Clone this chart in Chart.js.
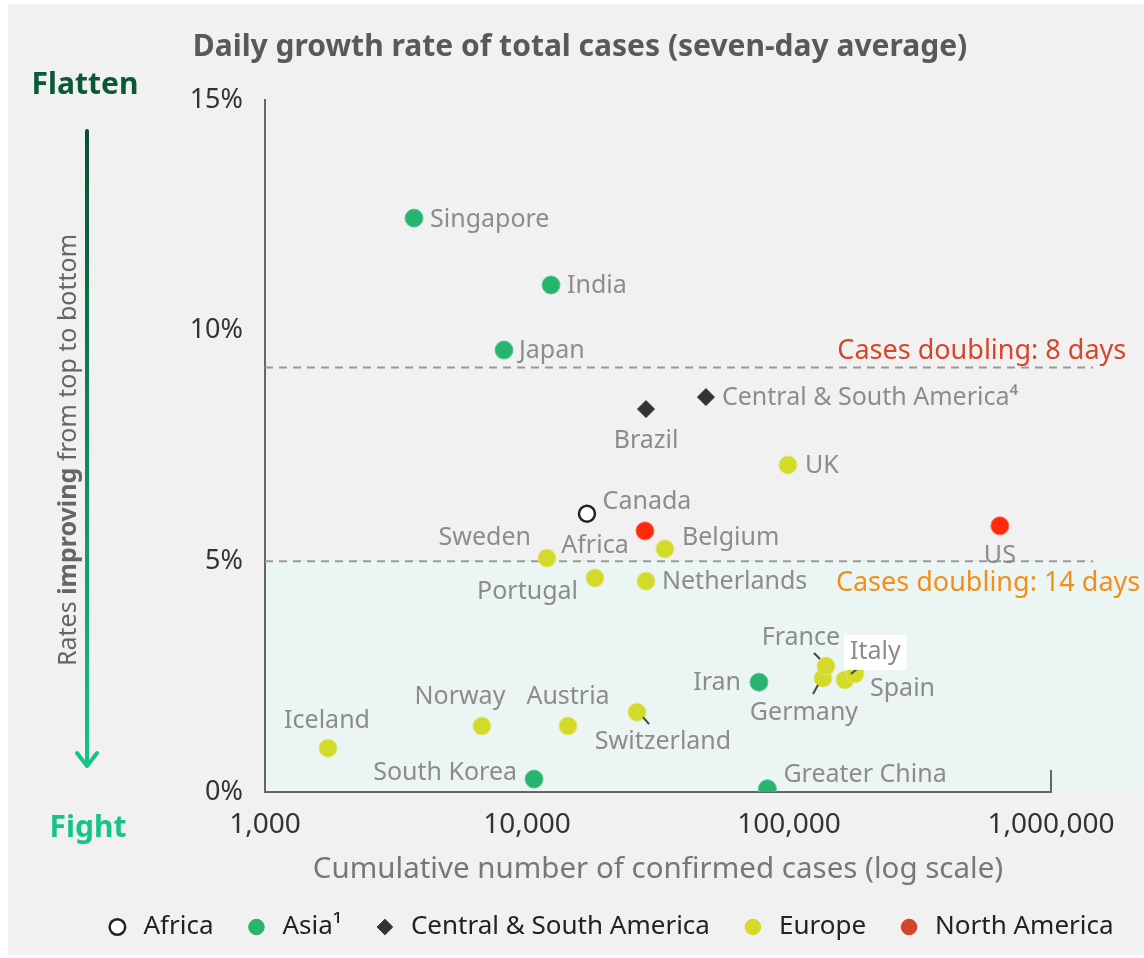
<!DOCTYPE html>
<html>
<head>
<meta charset="utf-8">
<script src="https://cdn.jsdelivr.net/npm/chart.js@4/dist/chart.umd.min.js"></script>
<style>
  html, body { margin: 0; padding: 0; background: #fff; }
  #chart { display: block; }
</style>
</head>
<body>
<canvas id="chart" width="1144" height="958"></canvas>
<script>
// Chart values
const countries = ["Iceland", "Norway", "Austria", "Sweden", "Portugal", "Switzerland", "Netherlands",
  "Belgium", "UK", "Germany", "France", "Spain", "Italy",
  "Singapore", "Japan", "South Korea", "India", "Iran", "Greater China",
  "Brazil", "Central & South America⁴", "Africa", "Canada", "US"];
const regions = ["Europe", "Europe", "Europe", "Europe", "Europe", "Europe", "Europe",
  "Europe", "Europe", "Europe", "Europe", "Europe", "Europe",
  "Asia¹", "Asia¹", "Asia¹", "Asia¹", "Asia¹", "Asia¹",
  "Central & South America", "Central & South America", "Africa", "North America", "North America"];
const cases = [1740, 6730, 14340, 11920, 18180, 26300, 28460,
  33600, 99100, 134800, 138400, 163600, 178600,
  3705, 8170, 10640, 12350, 76800, 82700,
  28460, 48200, 16940, 28200, 638000];
const growth = [0.95, 1.43, 1.43, 5.07, 4.64, 1.73, 4.57,
  5.27, 7.09, 2.47, 2.73, 2.43, 2.56,
  12.44, 9.58, 0.28, 10.99, 2.38, 0.07,
  8.30, 8.56, 6.03, 5.66, 5.77];

const legendOrder = ["Africa", "Asia¹", "Central & South America", "Europe", "North America"];
const doublingLabels = ["Cases doubling: 8 days", "Cases doubling: 14 days"];
const doublingRates = [9.2, 5.0];
const doublingEnd = 1450000;
const xTicks = [1000, 10000, 100000, 1000000];
const yTicks = [0, 5, 10, 15];

// Styles
const regionStyle = {
  "Africa": { fill: "#ffffff", border: "#222222", legend: "#ffffff", style: "circle", radius: 8, width: 2.5 },
  "Asia¹": { fill: "#26b46e", border: "#5dc795", legend: "#26b46e", style: "circle", radius: 9, width: 1 },
  "Central & South America": { fill: "#333333", border: "#333333", legend: "#333333", style: "rectRot", radius: 8.5, width: 1 },
  "Europe": { fill: "#d4da2a", border: "#e3e67a", legend: "#d4da2a", style: "circle", radius: 9, width: 1 },
  "North America": { fill: "#ff2a0a", border: "#ff6a50", legend: "#d3462b", style: "circle", radius: 9, width: 1 }
};
const doublingStyle = [
  { color: "#d7462a", dx: 33, dy: -16 },
  { color: "#f0901a", dx: 47, dy: 22 }
];

// Label placement next to each point: [dx, dy, align, leader line]
const labelPlacement = {
  "Singapore": [16, 2, "left"],
  "India": [16, 1, "left"],
  "Japan": [15, 1, "left"],
  "Brazil": [0, 32, "center"],
  "Central & South America⁴": [16, 1, "left"],
  "UK": [17, 1, "left"],
  "Africa": [8, 32, "center"],
  "Canada": [2, -29, "center"],
  "US": [0, 30, "center"],
  "Belgium": [17, -11, "left"],
  "Sweden": [-16, -20, "right"],
  "Portugal": [-17, 14, "right"],
  "Netherlands": [16, 1, "left"],
  "France": [-25, -28, "center", [-12, -13, -6, -7]],
  "Italy": [-5, -22, "left", [2, -5, -4, 0]],
  "Spain": [25, 9, "left"],
  "Germany": [-19, 35, "center", [-5, 7, -10, 16]],
  "Iran": [-18, 1, "right"],
  "Switzerland": [26, 30, "center", [6, 5, 12, 12]],
  "Austria": [0, -29, "center"],
  "Norway": [-22, -29, "center"],
  "Iceland": [-1, -27, "center"],
  "South Korea": [-17, -6, "right"],
  "Greater China": [16, -14, "left"]
};

Chart.defaults.font.family = "'Noto Sans', sans-serif";

// One scatter dataset per region
const datasets = legendOrder.map((region) => {
  const st = regionStyle[region];
  const points = [];
  countries.forEach((name, i) => {
    if (regions[i] === region) {
      points.push({ x: cases[i], y: growth[i], name: name });
    }
  });
  return {
    type: "scatter",
    label: region,
    data: points,
    backgroundColor: st.fill,
    borderColor: st.border,
    borderWidth: st.width,
    pointStyle: st.style,
    pointRadius: st.radius,
    pointHoverRadius: st.radius
  };
});

// Dashed doubling lines
doublingRates.forEach((rate, i) => {
  datasets.push({
    type: "line",
    label: doublingLabels[i],
    data: [{ x: xTicks[0], y: rate }, { x: doublingEnd, y: rate }],
    borderColor: "#9a9a9a",
    borderWidth: 2,
    borderDash: [8, 6],
    pointRadius: 0,
    clip: false,
    isDoubling: true
  });
});

const decorations = {
  id: "decorations",
  beforeDraw(chart) {
    const { ctx, chartArea, scales } = chart;
    ctx.save();
    ctx.fillStyle = "#ffffff";
    ctx.fillRect(0, 0, chart.width, chart.height);
    ctx.fillStyle = "#f1f1f1";
    ctx.fillRect(8, 4, chart.width - 8, chart.height - 7);
    // Band below the 14-day doubling line
    const top = scales.y.getPixelForValue(doublingRates[1]);
    ctx.fillStyle = "#ebf5f3";
    ctx.fillRect(chartArea.left, top, chart.width - chartArea.left, chartArea.bottom - top);
    ctx.restore();
  },
  afterDatasetsDraw(chart) {
    const { ctx, scales } = chart;
    ctx.save();
    ctx.font = "25px 'Noto Sans'";
    ctx.textBaseline = "middle";

    chart.data.datasets.forEach((ds, di) => {
      if (ds.isDoubling) return;
      const meta = chart.getDatasetMeta(di);
      ds.data.forEach((pt, pi) => {
        const el = meta.data[pi];
        const place = labelPlacement[pt.name];
        if (!place) return;
        const [dx, dy, align, leader] = place;
        const tx = el.x + dx;
        const ty = el.y + dy;
        if (leader) {
          ctx.strokeStyle = "#444";
          ctx.lineWidth = 2;
          ctx.beginPath();
          ctx.moveTo(el.x + leader[0], el.y + leader[1]);
          ctx.lineTo(el.x + leader[2], el.y + leader[3]);
          ctx.stroke();
        }
        if (pt.name === "Italy") {
          const w = ctx.measureText(pt.name).width;
          ctx.fillStyle = "#ffffff";
          ctx.fillRect(tx - 6, ty - 17, w + 12, 35);
        }
        ctx.textAlign = align;
        ctx.fillStyle = "#8c8c8c";
        ctx.fillText(pt.name, tx, ty);
      });
    });

    // Doubling line captions
    const endX = scales.x.getPixelForValue(doublingEnd);
    doublingRates.forEach((rate, i) => {
      const y = scales.y.getPixelForValue(rate);
      ctx.font = "27px 'Noto Sans'";
      ctx.textAlign = "right";
      ctx.fillStyle = doublingStyle[i].color;
      ctx.fillText(doublingLabels[i], endX + doublingStyle[i].dx, y + doublingStyle[i].dy);
    });
    ctx.restore();
  },
  afterDraw(chart) {
    const { ctx, chartArea, scales } = chart;
    ctx.save();

    // End cap on the x axis
    const capX = scales.x.getPixelForValue(xTicks[xTicks.length - 1]);
    ctx.strokeStyle = "#666";
    ctx.lineWidth = 2;
    ctx.beginPath();
    ctx.moveTo(capX, chartArea.bottom);
    ctx.lineTo(capX, chartArea.bottom - 22);
    ctx.stroke();

    // Title
    ctx.textBaseline = "middle";
    ctx.textAlign = "center";
    ctx.fillStyle = "#595959";
    ctx.font = "bold 30px 'Noto Sans'";
    ctx.fillText("Daily growth rate of total cases (seven-day average)", 580, 47);

    // Flatten / Fight
    ctx.font = "bold 30px 'Noto Sans'";
    ctx.fillStyle = "#0b5a35";
    ctx.fillText("Flatten", 85, 85);
    ctx.fillStyle = "#17c488";
    ctx.fillText("Fight", 88, 828);

    // Arrow
    const grad = ctx.createLinearGradient(0, 130, 0, 767);
    grad.addColorStop(0, "#0b4f2f");
    grad.addColorStop(1, "#15c486");
    ctx.strokeStyle = grad;
    ctx.lineWidth = 4;
    ctx.lineCap = "round";
    ctx.lineJoin = "round";
    ctx.beginPath();
    ctx.moveTo(87, 131);
    ctx.lineTo(87, 765);
    ctx.stroke();
    ctx.strokeStyle = "#15c486";
    ctx.beginPath();
    ctx.moveTo(77, 753);
    ctx.lineTo(87, 766);
    ctx.lineTo(97, 753);
    ctx.stroke();

    // Rotated caption
    ctx.translate(69, 450);
    ctx.rotate(-Math.PI / 2);
    const parts = [["Rates ", "25px 'Noto Sans'"], ["improving", "bold 25px 'Noto Sans'"], [" from top to bottom", "25px 'Noto Sans'"]];
    let total = 0;
    parts.forEach((p) => { ctx.font = p[1]; total += ctx.measureText(p[0]).width; });
    let cx = -total / 2;
    ctx.textAlign = "left";
    ctx.fillStyle = "#666";
    parts.forEach((p) => {
      ctx.font = p[1];
      ctx.fillText(p[0], cx, 0);
      cx += ctx.measureText(p[0]).width;
    });
    ctx.restore();
  }
};

new Chart(document.getElementById("chart"), {
  data: { datasets: datasets },
  options: {
    responsive: false,
    animation: false,
    layout: { padding: { left: 74, right: 0, top: 100, bottom: 8 } },
    scales: {
      x: {
        type: "logarithmic",
        position: "bottom",
        min: xTicks[0],
        max: xTicks[xTicks.length - 1],
        grid: { display: false, drawTicks: false },
        border: { color: "#666", width: 2 },
        afterBuildTicks: (scale) => { scale.ticks = xTicks.map((v) => ({ value: v })); },
        afterFit: (scale) => { scale.height = 92; },
        ticks: {
          autoSkip: false,
          maxRotation: 0,
          padding: 16,
          color: "#333",
          font: { size: 28 },
          callback: (v) => Number(v).toLocaleString("en-US")
        },
        title: {
          display: true,
          text: "Cumulative number of confirmed cases (log scale)",
          color: "#777",
          font: { size: 29.5, lineHeight: 1 },
          padding: { top: 0, bottom: 0 }
        }
      },
      y: {
        min: yTicks[0],
        max: yTicks[yTicks.length - 1],
        grid: { display: false, drawTicks: false },
        border: { color: "#666", width: 2 },
        afterBuildTicks: (scale) => { scale.ticks = yTicks.map((v) => ({ value: v })); },
        afterFit: (scale) => { scale.width = 191; },
        ticks: {
          padding: 22,
          color: "#333",
          font: { size: 27 },
          callback: (v) => v + "%"
        }
      },
      spacer: {
        type: "linear",
        position: "right",
        grid: { display: false, drawTicks: false },
        border: { display: false },
        ticks: { display: false },
        afterFit: (scale) => { scale.width = 93; }
      }
    },
    plugins: {
      tooltip: { enabled: false },
      legend: {
        position: "bottom",
        labels: {
          usePointStyle: true,
          boxWidth: 26,
          boxHeight: 11,
          padding: 30,
          color: "#222",
          font: { size: 26 },
          filter: (item, data) => !data.datasets[item.datasetIndex].isDoubling,
          generateLabels: (chart) => {
            const items = Chart.defaults.plugins.legend.labels.generateLabels(chart);
            items.forEach((item) => {
              const st = regionStyle[item.text];
              if (st) {
                item.fillStyle = st.legend;
                item.strokeStyle = item.text === "Africa" ? "#222" : st.legend;
                item.lineWidth = item.text === "Africa" ? 2.5 : 1;
              }
            });
            return items;
          }
        }
      }
    }
  },
  plugins: [decorations]
});
</script>
</body>
</html>
